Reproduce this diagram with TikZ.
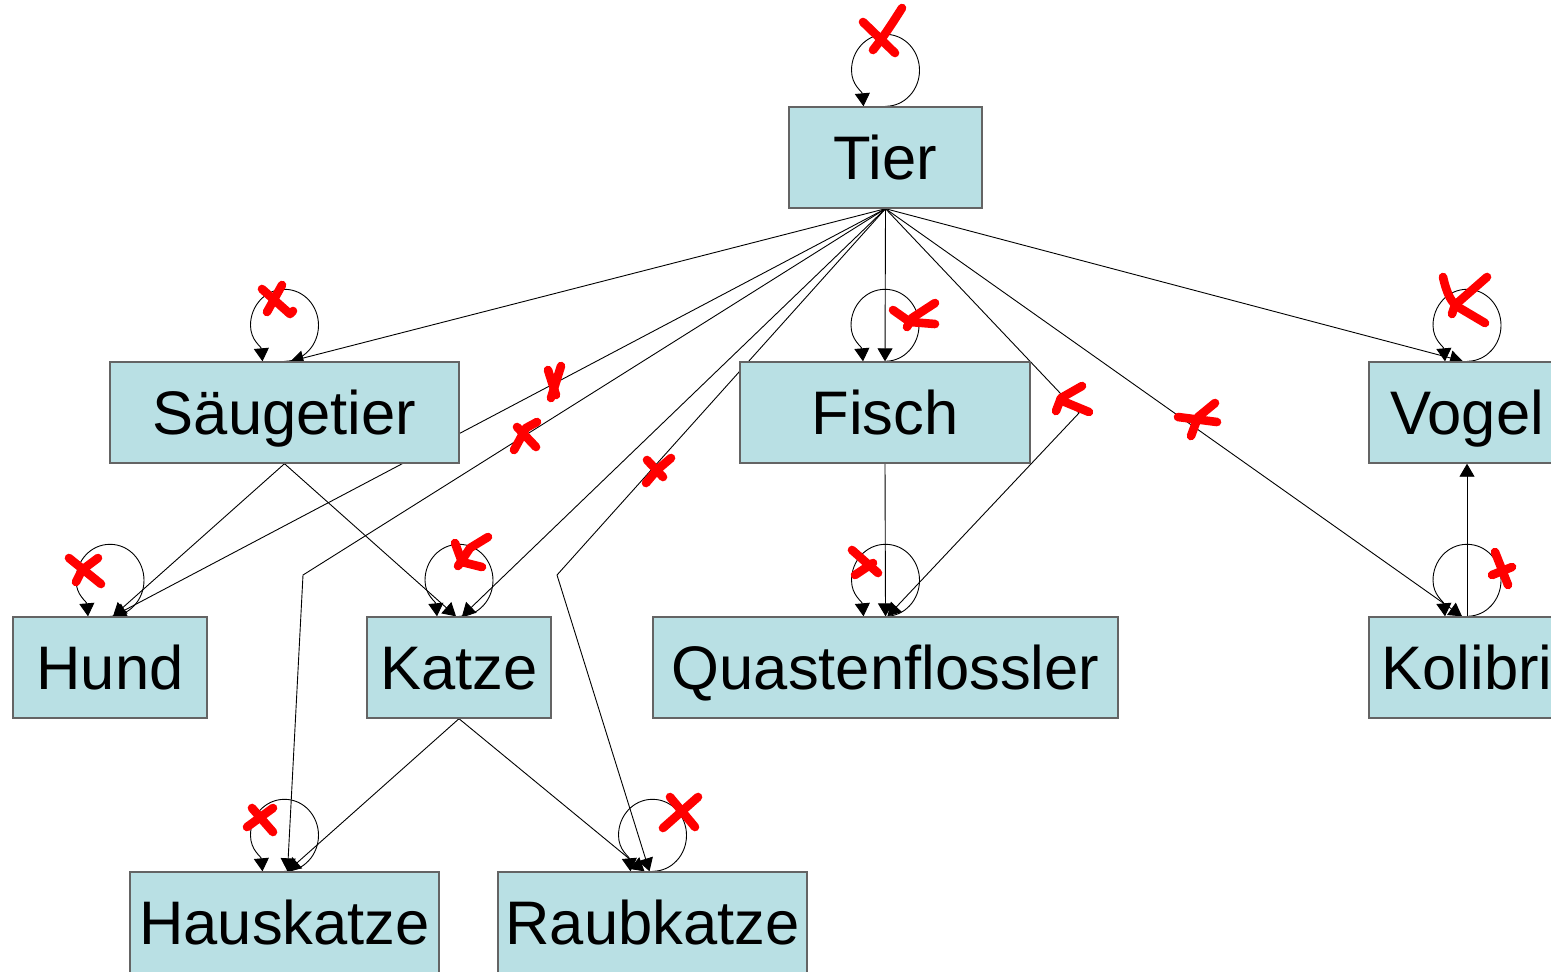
\documentclass[tikz,border=0pt]{standalone}
\usepackage{fontspec}
\setmainfont{Liberation Sans}
\usetikzlibrary{arrows.meta,backgrounds}
\definecolor{boxfill}{RGB}{185,224,228}
\definecolor{boxline}{RGB}{100,100,100}
\definecolor{markred}{RGB}{255,0,0}
\newcommand\selfloop[1]{\draw[arr] (#1.north) to[out=0,in=-90] ++(34,36) to[out=90,in=0] ++(-34,36) to[out=180,in=90] ++(-34,-36) to[out=-90,in=95] ([xshift=-11pt]#1.north);}
\begin{document}
\begin{tikzpicture}[x=0.5pt,y=0.5pt,
  box/.style={draw=boxline, line width=0.7pt, fill=boxfill, inner sep=0pt,
    minimum height=50.5pt, text height=22pt, text depth=0pt,
    font=\fontsize{30.75}{36}\selectfont},
  arr/.style={-{Triangle[length=6.5pt,width=7.5pt]}, line width=0.45pt},
  redmark/.style={markred, line width=4.3pt, line cap=round, line join=round}]
\useasboundingbox (0,0) rectangle (1551,-971);
\clip (0,0) rectangle (1551,-971);

\node[box, minimum width=96.5pt] (Tier) at (885.5,-157.5) {Tier};
\node[box, minimum width=174.5pt] (Saeu) at (284.5,-412.5) {Säugetier};
\node[box, minimum width=145pt] (Fisch) at (885,-412.5) {Fisch};
\node[box, minimum width=98pt] (Vogel) at (1467,-412.5) {Vogel};
\node[box, minimum width=97pt] (Hund) at (110,-667.5) {Hund};
\node[box, minimum width=92pt] (Katze) at (459,-667.5) {Katze};
\node[box, minimum width=232.5pt] (Quast) at (885.5,-667.5) {Quastenflossler};
\node[box, minimum width=98pt] (Kolibri) at (1467,-667.5) {Kolibri};
\node[box, minimum width=154.5pt] (Haus) at (284.5,-922.5) {Hauskatze};
\node[box, minimum width=154.5pt] (Raub) at (652.5,-922.5) {Raubkatze};

\coordinate (b1) at (303,-575);
\coordinate (b2) at (557,-575);
\coordinate (b3) at (1079,-413);

\begin{scope}[on background layer]
\fill[white] (0,0) rectangle (1551,-971);
\draw[arr] (Tier.south) -- ([xshift=3pt]Saeu.north);
\draw[arr] (Tier.south) -- ([xshift=1.5pt]Hund.north);
\draw[arr] (Saeu.south) -- ([xshift=1.5pt]Hund.north);
\draw[arr] (Saeu.south) -- ([xshift=-1.5pt]Katze.north);
\draw[arr] (Tier.south) -- ([xshift=1.5pt]Katze.north);
\draw[arr] (Tier.south) -- (b1) -- ([xshift=1.5pt]Haus.north);
\draw[arr] (Katze.south) -- ([xshift=1.5pt]Haus.north);
\draw[arr] (Tier.south) -- (b2) -- ([xshift=-1.5pt]Raub.north);
\draw[arr] (Katze.south) -- ([xshift=-4pt]Raub.north);
\draw[arr] (Tier.south) -- (Fisch.north);
\draw[arr] (Fisch.south) -- (Quast.north);
\draw[arr] (Tier.south) -- (b3) -- ([xshift=1pt]Quast.north);
\draw[arr] (Tier.south) -- ([xshift=-2.5pt]Kolibri.north);
\draw[arr] (Tier.south) -- ([xshift=-2pt]Vogel.north);
\draw[arr] (Kolibri.north) -- (Vogel.south);
\selfloop{Tier}
\selfloop{Saeu}
\selfloop{Fisch}
\selfloop{Vogel}
\selfloop{Hund}
\selfloop{Katze}
\selfloop{Quast}
\selfloop{Kolibri}
\selfloop{Haus}
\selfloop{Raub}
\end{scope}

% red marks
\draw[redmark] (863,-22) -- (895,-53);
\draw[redmark] (873,-50) .. controls (885,-35) and (893,-22) .. (902,-8);
\draw[redmark] (262,-289) -- (290,-314) -- (293,-311);
\draw[redmark] (282,-285) -- (267,-312);
\draw[redmark] (893,-310) -- (910,-322) -- (935,-324);
\draw[redmark] (935,-303) -- (912,-318) -- (907,-327);
\draw[redmark] (1443,-277) .. controls (1447,-295) and (1452,-303) .. (1458,-307) -- (1485,-323);
\draw[redmark] (1487,-277) -- (1455,-305) -- (1452,-314);
\draw[redmark] (69,-558) -- (101,-584);
\draw[redmark] (98,-558) -- (82,-570) -- (76,-582);
\draw[redmark] (455,-543) -- (462,-562) -- (482,-567);
\draw[redmark] (488,-537) -- (470,-548) -- (458,-566);
\draw[redmark] (852,-550) -- (878,-573);
\draw[redmark] (873,-563) -- (855,-575);
\draw[redmark] (1495,-552) -- (1508,-585);
\draw[redmark] (1492,-575) -- (1512,-567);
\draw[redmark] (252,-808) -- (273,-832);
\draw[redmark] (273,-808) -- (247,-827);
\draw[redmark] (670,-797) -- (695,-827);
\draw[redmark] (698,-797) -- (663,-828);
\draw[redmark] (548,-370) -- (556,-395);
\draw[redmark] (561,-366) -- (551,-398);
\draw[redmark] (517,-427) -- (536,-447);
\draw[redmark] (537,-422) -- (526,-428) -- (514,-450);
\draw[redmark] (647,-460) -- (663,-477);
\draw[redmark] (671,-458) -- (657,-470) -- (646,-483);
\draw[redmark] (1082,-386) -- (1061,-398) -- (1056,-411);
\draw[redmark] (1060,-400) -- (1089,-412);
\draw[redmark] (1215,-403) -- (1198,-417) -- (1191,-436);
\draw[redmark] (1178,-417) -- (1217,-422);
\end{tikzpicture}
\end{document}
